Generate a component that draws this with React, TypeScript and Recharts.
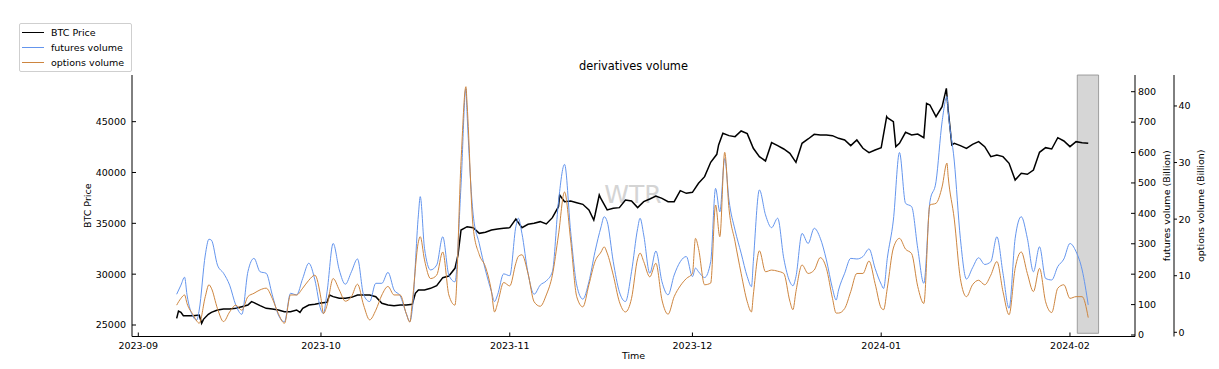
import React from 'react';
import { LineChart, Line, XAxis, YAxis, ReferenceArea, Label } from 'recharts';

// x positions are days since 2023-09-01
const tickDays = [0, 30, 61, 91, 122, 153];
const tickLabels = ['2023-09', '2023-10', '2023-11', '2023-12', '2024-01', '2024-02'];
const btcTicks = [25000, 30000, 35000, 40000, 45000];
const futuresTicks = [0, 100, 200, 300, 400, 500, 600, 700, 800];
const optionsTicks = [0, 10, 20, 30, 40];

const btcDay = [
  6.3, 6.6, 7, 7.4, 8, 9, 10, 10.4, 10.7, 11.5, 12, 13, 14, 15, 16, 17, 18, 18.6, 19, 20, 21, 22, 23, 24, 25,
  26, 26.55, 27, 28, 29, 30, 31, 31.4, 32, 33, 34, 35, 36, 37, 38, 39, 40, 41, 42, 43, 44, 45, 45.5, 46, 47,
  48, 49, 50, 51, 52, 52.5, 53, 54, 55, 56, 57, 58, 59, 60, 61, 62, 63, 64, 65, 66, 67, 68, 69, 69.2, 70, 71,
  72, 73, 74, 74.8, 75, 75.7, 76, 77, 78, 79, 80, 81, 82, 83, 84, 85, 86, 87, 88, 89, 90, 91, 92, 93, 94, 95,
  95.3, 96, 97, 98, 99, 100, 101, 102, 103, 104, 105, 106, 107, 108, 109, 110, 111, 112, 113, 114, 115, 116,
  117, 118, 119, 120, 121, 122, 122.9, 123, 124, 124.4, 125, 126, 127, 128, 129, 129.45, 130, 131, 132, 132.7,
  133, 133.6, 134, 135, 136, 137, 138, 139, 140, 141, 142, 143, 144, 145, 146, 147, 148, 149, 150, 151, 152,
  153, 154, 155, 156,
];
const btcPrice = [
  25656, 26377, 26246, 25918, 25918, 25918, 25984, 25164, 25557, 26049, 26246, 26476, 26574, 26574, 26640,
  26803, 26967, 27295, 27197, 26902, 26640, 26574, 26476, 26312, 26312, 26476, 26246, 26640, 26967, 27033,
  27164, 27230, 27951, 27787, 27623, 27623, 27722, 27951, 27951, 27951, 27787, 27131, 26967, 26902, 26967,
  26967, 27033, 28115, 28443, 28443, 28607, 28869, 29656, 29820, 30574, 31886, 34345, 34673, 34575, 34017,
  34116, 34345, 34444, 34509, 34575, 35427, 34575, 34903, 35001, 35165, 34935, 35558, 36640, 37788, 37132,
  37198, 37034, 36870, 36313, 35329, 35821, 37788, 37395, 36313, 36477, 36542, 37296, 37198, 36550, 37132,
  37395, 37690, 37460, 37132, 37132, 38214, 37952, 38050, 38936, 39592, 41002, 41788, 42707, 43854, 43625,
  43526, 44084, 43821, 42379, 41559, 41133, 42936, 42641, 42313, 41887, 41002, 42871, 43297, 43756, 43690,
  43690, 43625, 43362, 43198, 42641, 43198, 42379, 41952, 42215, 42444, 45494, 45395, 45002, 42543, 42871,
  43953, 43690, 43788, 43428, 46805, 46641, 45494, 46477, 48281, 46149, 42707, 42871, 42641, 42379, 42772,
  43035, 42543, 41559, 41723, 41559, 40903, 39264, 39920, 39821, 40247, 41985, 42444, 42313, 43428, 43100,
  42543, 43035, 42936, 42871,
];

const volDay = [
  6.3, 7, 7.6, 8, 9, 9.6, 10, 11, 11.6, 12, 13, 14, 15, 16, 17, 18, 19, 20, 21, 22, 23, 24, 25, 26, 27, 28,
  29, 30, 30.4, 31, 32, 33, 34, 35, 36, 37, 38, 39, 40, 41, 42, 43, 44, 44.6, 45, 46, 46.3, 47, 48, 49, 50,
  51, 52, 53, 53.8, 54, 55, 56, 57, 58, 58.5, 59, 60, 61, 62, 62.4, 63, 64, 65, 66, 67, 68, 69, 70, 71, 72,
  73, 74, 75, 76, 76.5, 77, 78, 79, 80, 81, 82, 82.4, 83, 84, 85, 86, 87, 88, 89, 90, 91, 91.5, 92, 93, 94,
  94.8, 95.5, 96.3, 97, 98, 99, 100, 100.7, 101, 102, 103, 104, 105, 106, 107, 107.5, 108, 109, 110, 111,
  112, 113, 114, 114.6, 115, 116, 117, 118, 119, 120, 121, 122, 122.4, 123, 124, 125, 126, 127, 128, 129,
  130, 131, 132, 132.8, 133, 134, 135, 136, 137, 138, 139, 140, 141, 142, 143, 144, 145, 146, 147, 148, 149,
  150, 151, 152, 153, 154, 155, 156,
];
const futuresVol = [
  134, 164, 190, 132, 60, 49, 82, 263, 315, 312, 230, 203, 164, 99, 68, 208, 252, 208, 203, 132, 66, 44, 137,
  132, 186, 236, 181, 82, 71, 142, 301, 214, 167, 208, 250, 132, 110, 170, 170, 206, 148, 129, 71, 44, 85,
  395, 455, 285, 214, 230, 323, 197, 175, 493, 810, 723, 395, 300, 214, 142, 110, 132, 201, 195, 356, 384,
  334, 203, 134, 164, 178, 208, 438, 561, 340, 164, 118, 175, 274, 356, 389, 373, 241, 142, 110, 208, 350,
  384, 329, 203, 276, 175, 132, 197, 241, 258, 192, 220, 208, 189, 241, 482, 405, 580, 444, 345, 269, 192,
  159, 241, 477, 395, 353, 384, 252, 175, 162, 192, 334, 301, 351, 318, 247, 153, 115, 148, 203, 252, 250,
  258, 283, 219, 167, 153, 252, 378, 600, 433, 422, 285, 170, 438, 504, 701, 784, 735, 572, 318, 184, 221,
  254, 232, 241, 323, 203, 88, 318, 389, 318, 208, 290, 186, 181, 225, 250, 301, 274, 214, 99,
];
const optionsVol = [
  4.8, 6.0, 6.6, 5.1, 3.1, 2.0, 1.6, 6.3, 8.4, 7.8, 4.2, 1.9, 3.6, 4.8, 3.9, 6.3, 6.9, 7.5, 7.8, 6.0, 3.3, 1.6,
  6.6, 6.6, 7.8, 9.2, 10.1, 6.0, 3.3, 4.8, 9.5, 7.5, 5.5, 6.3, 8.5, 4.8, 2.2, 3.9, 6.6, 8.1, 6.6, 6.6, 3.3,
  1.8, 5.4, 16.0, 16.9, 12.8, 9.5, 10.1, 14.2, 6.6, 4.8, 30.2, 43.4, 40.2, 18.4, 13.7, 11.6, 7.2, 3.6, 5.1,
  8.8, 8.2, 12.2, 13.4, 13.7, 10.4, 5.4, 4.6, 6.6, 10.1, 17.2, 24.8, 16.3, 6.3, 4.5, 8.4, 12.5, 14.2, 15.1,
  14.0, 10.1, 5.4, 3.6, 6.0, 13.0, 14.0, 12.5, 9.8, 12.2, 5.7, 3.2, 6.3, 8.2, 9.5, 10.4, 16.6, 14.8, 8.4, 8.7,
  22.5, 16.9, 31.8, 21.9, 16.0, 10.4, 5.4, 3.6, 6.6, 14.4, 10.7, 11.0, 10.8, 10.4, 5.5, 4.0, 7.2, 11.9, 10.4,
  11.0, 13.2, 11.3, 6.0, 3.4, 3.4, 4.2, 7.2, 10.4, 10.4, 12.6, 8.6, 4.3, 4.0, 7.8, 14.9, 16.6, 14.7, 13.9,
  8.1, 5.1, 22.5, 22.8, 25.7, 29.9, 27.5, 20.0, 9.5, 6.3, 8.4, 9.2, 8.4, 10.1, 12.5, 7.2, 3.1, 11.3, 14.2,
  10.4, 7.2, 11.3, 5.4, 3.5, 7.8, 8.4, 6.0, 6.3, 6.3, 2.6,
];

const btcData = btcDay.map((d, i) => ({ day: d, price: btcPrice[i] }));
const volData = volDay.map((d, i) => ({ day: d, futures: futuresVol[i], options: optionsVol[i] }));

const FONT = '"DejaVu Sans", sans-serif';
const tickStyle = { fontSize: 9.5, fill: '#000', fontFamily: FONT };

const VLabel = ({ viewBox, value, dx }: any) => {
  const cx = viewBox.x + dx;
  const cy = viewBox.y + viewBox.height / 2;
  return (
    <text x={cx} y={cy} transform={`rotate(-90 ${cx} ${cy})`} textAnchor="middle" dominantBaseline="central"
      fontSize={9.5} fontFamily={FONT} fill="#000">{value}</text>
  );
};

const legendItems = [
  { name: 'BTC Price', color: '#000' },
  { name: 'futures volume', color: '#6495ED' },
  { name: 'options volume', color: '#CD853F' },
];

export default function App() {
  return (
    <div style={{ position: 'absolute', left: 0, top: 0, width: 1219, height: 369, background: '#fff', fontFamily: FONT }}>
      <div style={{ position: 'absolute', left: 570, top: 180, width: 126, textAlign: 'center', fontSize: 25, color: '#d4d4d4', lineHeight: '30px' }}>
        WTR
      </div>
      <div style={{ position: 'relative' }}>
        <LineChart width={1219} height={369} margin={{ top: 75, right: 0, bottom: 2.5, left: 72 }}>
          <XAxis type="number" dataKey="day" domain={[-1.035, 163.68]} allowDataOverflow ticks={tickDays}
            tickFormatter={(v) => tickLabels[tickDays.indexOf(v)] ?? ''} height={30}
            tick={tickStyle} tickSize={-4} tickMargin={10} stroke="#000">
            <Label content={(p: any) => (
              <text x={p.viewBox.x + p.viewBox.width / 2} y={p.viewBox.y + 19} textAnchor="middle" dominantBaseline="central"
                fontSize={9.5} fontFamily={FONT} fill="#000">Time</text>
            )} />
          </XAxis>
          <XAxis xAxisId="top" orientation="top" type="number" domain={[-1.035, 163.68]} allowDataOverflow
            ticks={tickDays} height={0} tick={false} tickSize={-4} stroke="#000" />
          <YAxis yAxisId="btc" orientation="left" width={60} domain={[23869, 49590]} allowDataOverflow ticks={btcTicks}
            tick={tickStyle} tickSize={-4} tickMargin={10} stroke="#000">
            <Label content={(p: any) => <VLabel {...p} value="BTC Price" dx={15} />} />
          </YAxis>
          <YAxis yAxisId="futures" orientation="right" width={39} domain={[-4.9, 854.9]} allowDataOverflow ticks={futuresTicks}
            tick={tickStyle} tickSize={-4} tickMargin={7} stroke="#000">
            <Label content={(p: any) => <VLabel {...p} value="futures volume (Billion)" dx={31.5} />} />
          </YAxis>
          <YAxis yAxisId="options" orientation="right" width={45} domain={[-0.74, 45.47]} allowDataOverflow ticks={optionsTicks}
            tick={tickStyle} tickSize={3} tickMargin={1.5} stroke="#000">
            <Label content={(p: any) => <VLabel {...p} value="options volume (Billion)" dx={26.5} />} />
          </YAxis>
          <ReferenceArea yAxisId="futures" x1={154.2} x2={157.7} y1={5.6} y2={854.9} fill="#d6d6d6" fillOpacity={1}
            stroke="#8c8c8c" strokeWidth={0.8} />
          <Line yAxisId="btc" data={btcData} dataKey="price" type="linear" stroke="#000" strokeWidth={1.5}
            dot={false} isAnimationActive={false} />
          <Line yAxisId="futures" data={volData} dataKey="futures" type="monotone" stroke="#6495ED" strokeWidth={1}
            dot={false} isAnimationActive={false} />
          <Line yAxisId="options" data={volData} dataKey="options" type="monotone" stroke="#CD853F" strokeWidth={1}
            dot={false} isAnimationActive={false} />
        </LineChart>
      </div>
      <div style={{ position: 'absolute', left: 132, width: 1003, top: 58, textAlign: 'center', fontSize: 11.4, lineHeight: '16px', color: '#000' }}>
        derivatives volume
      </div>
      <div style={{ position: 'absolute', left: 19, top: 23, width: 113, height: 49, border: '1px solid #cfcfcf', borderRadius: 2, background: '#fff', boxSizing: 'border-box' }}>
        {legendItems.map((it, i) => (
          <div key={it.name} style={{ position: 'absolute', left: 2, top: 1 + i * 15.3, height: 14, display: 'flex', alignItems: 'center' }}>
            <div style={{ width: 22, height: 0, borderTop: `1.2px solid ${it.color}` }} />
            <span style={{ marginLeft: 7, fontSize: 9.5, color: '#000', whiteSpace: 'nowrap' }}>{it.name}</span>
          </div>
        ))}
      </div>
    </div>
  );
}
